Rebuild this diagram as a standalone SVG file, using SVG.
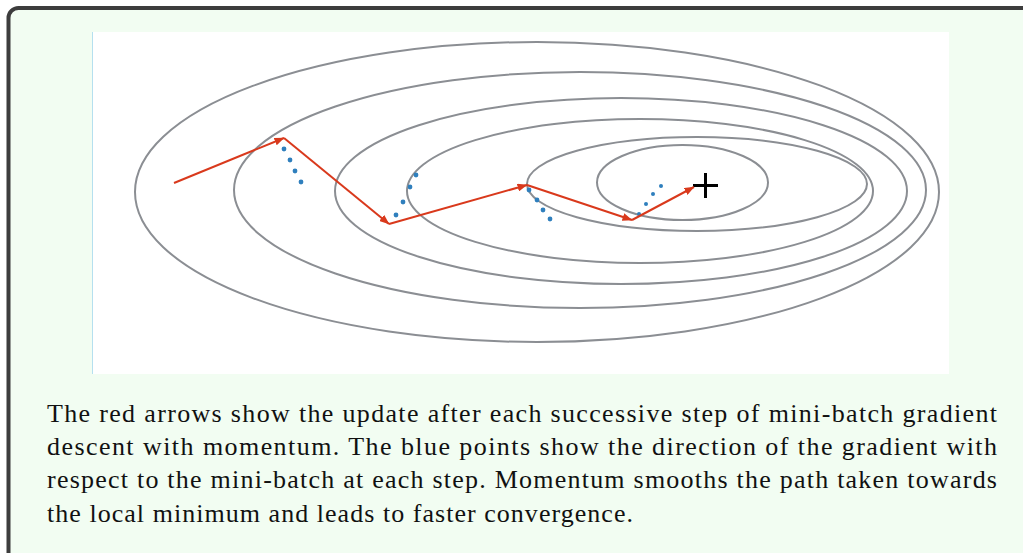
<svg xmlns="http://www.w3.org/2000/svg" width="1023" height="553" viewBox="0 0 1023 553">
  <style>
    .contour { fill: none; stroke: #8b8e93; stroke-width: 2; }
    .step { fill: none; stroke: #d9391c; stroke-width: 2; }
    .dot { fill: #2f7fbd; }
    .caption { font-family: "Liberation Serif", "Times New Roman", serif; font-size: 26px; fill: #111; }
  </style>
  <defs>
    <marker id="head" viewBox="0 0 10 8" refX="9.5" refY="4" markerWidth="10" markerHeight="8" markerUnits="userSpaceOnUse" orient="auto">
      <path d="M0,0 L10,4 L0,8 Z" fill="#d9391c"/>
    </marker>
  </defs>
  <rect x="8.5" y="8" width="1100" height="600" rx="10" ry="10" fill="#f2fdf2" stroke="#3d3d3d" stroke-width="4"/>
  <g id="plot">
    <rect x="92" y="32" width="857" height="342" fill="#ffffff"/>
    <line x1="92.5" y1="32" x2="92.5" y2="374" stroke="#b5e0ef" stroke-width="1"/>
  </g>
  <g id="contours">
    <ellipse class="contour" cx="537" cy="192" rx="402" ry="150"/>
    <ellipse class="contour" cx="580" cy="190" rx="346" ry="118"/>
    <ellipse class="contour" cx="621" cy="191" rx="286" ry="93"/>
    <ellipse class="contour" cx="640" cy="191" rx="233" ry="72"/>
    <ellipse class="contour" cx="697" cy="184" rx="170" ry="47"/>
    <ellipse class="contour" cx="682.5" cy="182.5" rx="85.5" ry="37.5"/>
  </g>
  <g id="minimum">
    <line x1="693" y1="185.5" x2="718" y2="185.5" stroke="#000" stroke-width="3"/>
    <line x1="705.5" y1="173" x2="705.5" y2="198" stroke="#000" stroke-width="3"/>
  </g>
  <g id="gradient-dots">
    <circle class="dot" cx="284" cy="149" r="2.4"/>
    <circle class="dot" cx="290" cy="160" r="2.4"/>
    <circle class="dot" cx="295" cy="171" r="2.4"/>
    <circle class="dot" cx="301" cy="182" r="2.4"/>
    <circle class="dot" cx="416" cy="175" r="2.4"/>
    <circle class="dot" cx="410" cy="187" r="2.4"/>
    <circle class="dot" cx="403" cy="202" r="2.4"/>
    <circle class="dot" cx="396" cy="215" r="2.4"/>
    <circle class="dot" cx="529" cy="190" r="2.4"/>
    <circle class="dot" cx="537" cy="200" r="2.4"/>
    <circle class="dot" cx="543" cy="210" r="2.4"/>
    <circle class="dot" cx="550" cy="219" r="2.4"/>
    <circle class="dot" cx="639" cy="214" r="2"/>
    <circle class="dot" cx="646" cy="204" r="2"/>
    <circle class="dot" cx="653" cy="194" r="2"/>
    <circle class="dot" cx="661" cy="186" r="2"/>
  </g>
  <g id="connectors">
    <line class="step" x1="174" y1="183" x2="284" y2="138" marker-end="url(#head)"/>
    <line class="step" x1="284" y1="138" x2="389" y2="224" marker-end="url(#head)"/>
    <line class="step" x1="389" y1="224" x2="527" y2="185" marker-end="url(#head)"/>
    <line class="step" x1="527" y1="185" x2="632" y2="220" marker-end="url(#head)"/>
    <line class="step" x1="632" y1="220" x2="694" y2="187" marker-end="url(#head)"/>
  </g>
  <g id="caption">
    <text class="caption" x="47" y="422" textLength="950" lengthAdjust="spacing">The red arrows show the update after each successive step of mini-batch gradient</text>
    <text class="caption" x="47" y="455" textLength="950" lengthAdjust="spacing">descent with momentum. The blue points show the direction of the gradient with</text>
    <text class="caption" x="47" y="488" textLength="950" lengthAdjust="spacing">respect to the mini-batch at each step. Momentum smooths the path taken towards</text>
    <text class="caption" x="47" y="522" textLength="586" lengthAdjust="spacing">the local minimum and leads to faster convergence.</text>
  </g>
</svg>
